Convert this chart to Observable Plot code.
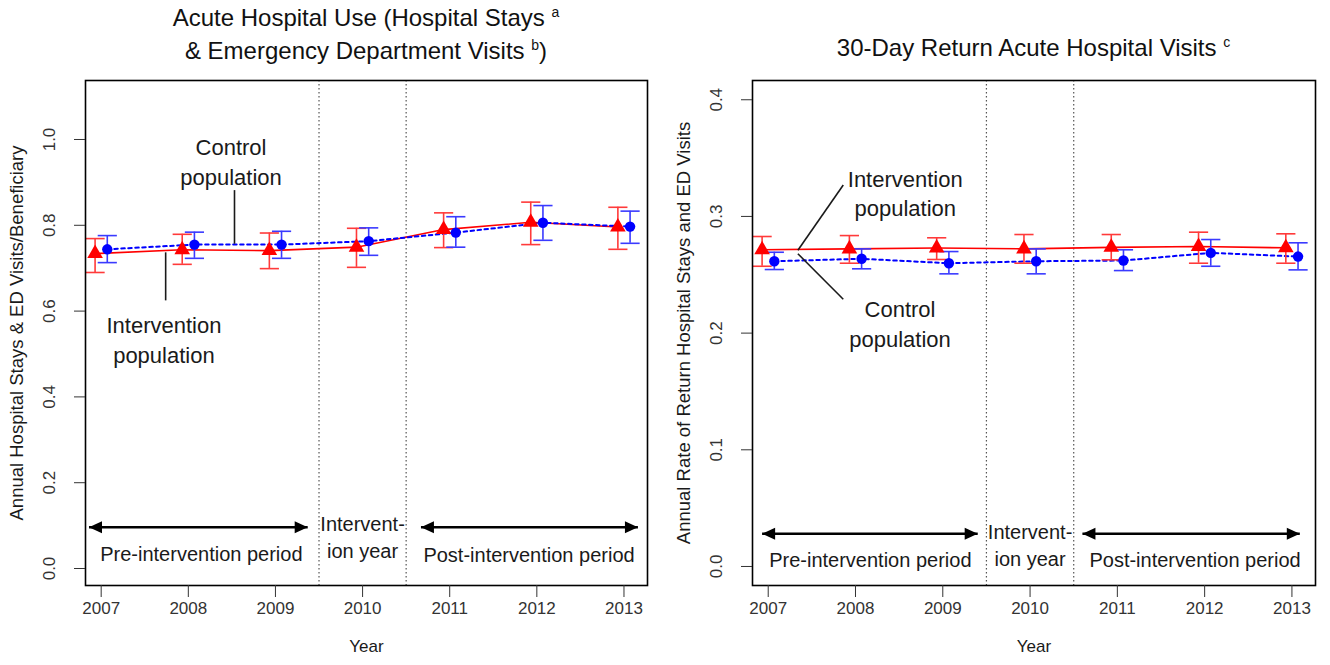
<!DOCTYPE html>
<html><head><meta charset="utf-8">
<script src="https://cdn.jsdelivr.net/npm/d3@7"></script>
<script src="https://cdn.jsdelivr.net/npm/@observablehq/plot@0.6"></script>
<style>
body{margin:0;background:#fff;font-family:"Liberation Sans",Arial,sans-serif;}
#wrap{position:relative;width:1330px;height:665px;overflow:hidden;background:#fff}
.panel{position:absolute;top:0;width:665px}
.title{height:72px;font-size:24px;line-height:30px;text-align:center;color:#111;box-sizing:border-box;white-space:nowrap}
.title sup{font-size:14px;vertical-align:0;position:relative;top:-9px}
svg{display:block;overflow:visible}
</style></head><body>
<div id="wrap">
 <div class="panel" id="p1" style="left:0"><div class="title" style="margin-left:85px;width:562px;padding-top:3px">Acute Hospital Use (Hospital Stays <sup>a</sup><br>&amp; Emergency Department Visits <sup>b</sup>)</div></div>
 <div class="panel" id="p2" style="left:665px"><div class="title" style="margin-left:87px;width:563px;padding-top:33px">30-Day Return Acute Hospital Visits <sup>c</sup></div></div>
</div>
<script>
// ---- data ----
const years = [2007, 2008, 2009, 2010, 2011, 2012, 2013];

// Panel 1: Acute hospital use
const useInt   = [0.734, 0.743, 0.741, 0.749, 0.790, 0.807, 0.796];
const useIntLo = [0.690, 0.709, 0.699, 0.702, 0.748, 0.755, 0.744];
const useIntHi = [0.769, 0.779, 0.782, 0.793, 0.829, 0.854, 0.842];
const useCtl   = [0.744, 0.755, 0.755, 0.763, 0.783, 0.806, 0.797];
const useCtlLo = [0.713, 0.723, 0.723, 0.730, 0.749, 0.765, 0.758];
const useCtlHi = [0.776, 0.784, 0.786, 0.794, 0.820, 0.846, 0.833];
const useTicks = [0.0, 0.2, 0.4, 0.6, 0.8, 1.0];

// Panel 2: 30-day return acute hospital visits
const retInt   = [0.2714, 0.2722, 0.2730, 0.2722, 0.2735, 0.2742, 0.2731];
const retIntLo = [0.2573, 0.2599, 0.2631, 0.2599, 0.2628, 0.2599, 0.2599];
const retIntHi = [0.2828, 0.2836, 0.2817, 0.2845, 0.2845, 0.2865, 0.2851];
const retCtl   = [0.2616, 0.2637, 0.2599, 0.2616, 0.2622, 0.2688, 0.2656];
const retCtlLo = [0.2545, 0.2551, 0.2508, 0.2508, 0.2536, 0.2573, 0.2542];
const retCtlHi = [0.2693, 0.2722, 0.2699, 0.2722, 0.2714, 0.2802, 0.2774];
const retTicks = [0.0, 0.1, 0.2, 0.3, 0.4];

const periodBreaks = [2009.5, 2010.5];

// ---- styling ----
const RED = "#ff0000", RED_EB = "#ff3a3a";
const BLUE = "#0000ff", BLUE_EB = "#3a3aff";
const INK = "#1a1a1a";
const OFF = 0.07;      // horizontal dodge (years)
const CAP = 0.11;      // half width of error-bar caps (years)

const headRight = {draw(c){ c.moveTo(0,0); c.lineTo(-13,-6); c.lineTo(-13,6); c.closePath(); }};
const headLeft  = {draw(c){ c.moveTo(0,0); c.lineTo(13,-6); c.lineTo(13,6); c.closePath(); }};

function rows(v, lo, hi, off) {
  return years.map((yr, i) => ({x: yr + off, v: v[i], lo: lo[i], hi: hi[i]}));
}

function panel(cfg) {
  const R = rows(cfg.int, cfg.intLo, cfg.intHi, -OFF);
  const B = rows(cfg.ctl, cfg.ctlLo, cfg.ctlHi, OFF);
  const caps = (D) => D.flatMap(d => [{x: d.x, y: d.lo}, {x: d.x, y: d.hi}]);
  const ay = cfg.arrowY;
  return Plot.plot({
    width: 665, height: 593,
    marginTop: 8, marginBottom: 80, marginLeft: cfg.mL, marginRight: cfg.mR,
    x: {domain: [2006.82, 2013.27]},
    y: {domain: cfg.yDomain},
    style: {fontFamily: '"Liberation Sans", Arial, sans-serif', color: INK, background: "white"},
    marks: [
      Plot.ruleX(periodBreaks, {stroke: "#555", strokeWidth: 1.2, strokeDasharray: "1.5,2.5"}),
      // lines
      Plot.line(R, {x: "x", y: "v", stroke: RED, strokeWidth: 1.6}),
      Plot.line(B, {x: "x", y: "v", stroke: BLUE, strokeWidth: 2, strokeDasharray: "3.5,3.5"}),
      // error bars
      Plot.ruleX(R, {x: "x", y1: "lo", y2: "hi", stroke: RED_EB, strokeWidth: 1.6}),
      Plot.link(caps(R), {x1: d => d.x - CAP, x2: d => d.x + CAP, y1: "y", y2: "y", stroke: RED_EB, strokeWidth: 1.6}),
      Plot.ruleX(B, {x: "x", y1: "lo", y2: "hi", stroke: BLUE_EB, strokeWidth: 1.6}),
      Plot.link(caps(B), {x1: d => d.x - CAP, x2: d => d.x + CAP, y1: "y", y2: "y", stroke: BLUE_EB, strokeWidth: 1.6}),
      // points
      Plot.dot(R, {x: "x", y: "v", symbol: "triangle", r: 5.8, fill: RED, stroke: "none"}),
      Plot.dot(B, {x: "x", y: "v", r: 5.2, fill: BLUE, stroke: "none"}),
      // annotations
      Plot.link(cfg.leaders, {x1: "x1", y1: "y1", x2: "x2", y2: "y2", stroke: INK, strokeWidth: 1.6}),
      Plot.text(cfg.notes, {x: "x", y: "y", text: "t", fontSize: 22, lineHeight: 1.35, fill: INK}),
      // period arrows
      Plot.link(cfg.arrows, {x1: "x1", x2: "x2", y1: () => ay, y2: () => ay, stroke: "black", strokeWidth: 2.5}),
      Plot.dot(cfg.arrows, {x: "x1", y: () => ay, symbol: headLeft, r: 6, fill: "black", stroke: "none"}),
      Plot.dot(cfg.arrows, {x: "x2", y: () => ay, symbol: headRight, r: 6, fill: "black", stroke: "none"}),
      Plot.text(cfg.periods, {x: "x", y: "y", text: "t", fontSize: 20, lineHeight: 1.35, fill: INK}),
      // axes
      Plot.frame({stroke: "black", strokeWidth: 1.6}),
      Plot.axisX(years, {tickSize: 12, tickFormat: () => "", label: null, stroke: "#333"}),
      Plot.text(years, {x: d => d, text: d => String(d), frameAnchor: "bottom", dy: 28, fontSize: 17, fill: "#333"}),
      Plot.axisY(cfg.yTicks, {tickSize: 11, tickFormat: () => "", label: null, stroke: "#333"}),
      Plot.text(cfg.yTicks, {y: d => d, text: d => d.toFixed(1), frameAnchor: "left", textAnchor: "middle", dx: -36, rotate: -90, fontSize: 17, fill: "#333"}),
      Plot.text([cfg.yLabel], {frameAnchor: "left", textAnchor: "middle", dx: -68, rotate: -90, fontSize: 18.5, fill: INK}),
      Plot.text(["Year"], {frameAnchor: "bottom", dy: 66, fontSize: 17, fill: INK})
    ]
  });
}

document.getElementById("p1").appendChild(panel({
  int: useInt, intLo: useIntLo, intHi: useIntHi,
  ctl: useCtl, ctlLo: useCtlLo, ctlHi: useCtlHi,
  yDomain: [-0.0396, 1.1375], yTicks: useTicks, mL: 85, mR: 18,
  yLabel: "Annual Hospital Stays & ED Visits/Beneficiary",
  leaders: [{x1: 2008.53, y1: 0.882, x2: 2008.53, y2: 0.757}, {x1: 2007.74, y1: 0.737, x2: 2007.74, y2: 0.625}],
  notes: [{x: 2008.49, y: 0.951, t: "Control\npopulation"}, {x: 2007.72, y: 0.536, t: "Intervention\npopulation"}],
  arrowY: 0.096,
  arrows: [{x1: 2006.86, x2: 2009.37}, {x1: 2010.67, x2: 2013.16}],
  periods: [{x: 2008.15, y: 0.037, t: "Pre-intervention period"}, {x: 2010.0, y: 0.076, t: "Intervent-\nion year"}, {x: 2011.91, y: 0.035, t: "Post-intervention period"}]
}));

document.getElementById("p2").appendChild(panel({
  int: retInt, intLo: retIntLo, intHi: retIntHi,
  ctl: retCtl, ctlLo: retCtlLo, ctlHi: retCtlHi,
  yDomain: [-0.0163, 0.4165], yTicks: retTicks, mL: 87, mR: 15,
  yLabel: "Annual Rate of Return Hospital Stays and ED Visits",
  leaders: [{x1: 2007.34, y1: 0.271, x2: 2007.86, y2: 0.327}, {x1: 2007.34, y1: 0.268, x2: 2007.86, y2: 0.229}],
  notes: [{x: 2008.57, y: 0.321, t: "Intervention\npopulation"}, {x: 2008.51, y: 0.209, t: "Control\npopulation"}],
  arrowY: 0.028,
  arrows: [{x1: 2006.93, x2: 2009.40}, {x1: 2010.60, x2: 2013.09}],
  periods: [{x: 2008.17, y: 0.007, t: "Pre-intervention period"}, {x: 2010.0, y: 0.0197, t: "Intervent-\nion year"}, {x: 2011.89, y: 0.007, t: "Post-intervention period"}]
}));
</script>
</body></html>
